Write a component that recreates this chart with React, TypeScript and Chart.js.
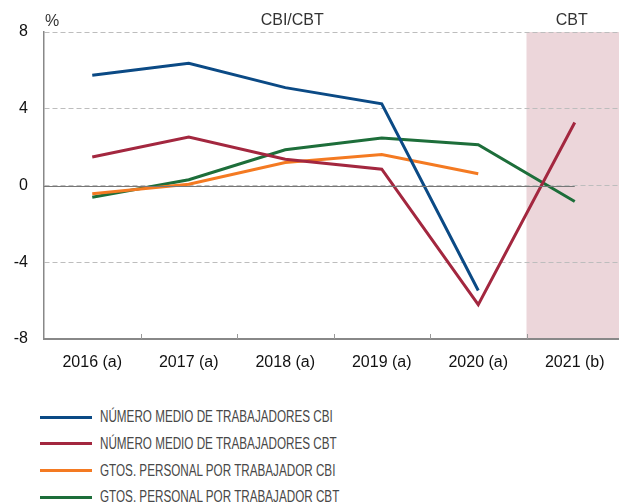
import React, { useEffect, useRef } from "react";
import { Chart, registerables } from "chart.js";

Chart.register(...registerables);

const categories = ["2016 (a)", "2017 (a)", "2018 (a)", "2019 (a)", "2020 (a)", "2021 (b)"];
const numMedioCBI = [5.75, 6.37, 5.1, 4.26, -5.47, null];
const numMedioCBT = [1.49, 2.52, 1.37, 0.85, -6.21, 3.28];
const gtosCBI = [-0.43, 0.07, 1.2, 1.61, 0.61, null];
const gtosCBT = [-0.61, 0.3, 1.86, 2.48, 2.12, -0.83];
const yTicks = [8, 4, 0, -4, -8];

const seriesNames = [
  "NÚMERO MEDIO DE TRABAJADORES CBI",
  "NÚMERO MEDIO DE TRABAJADORES CBT",
  "GTOS. PERSONAL POR TRABAJADOR CBI",
  "GTOS. PERSONAL POR TRABAJADOR CBT",
];
const seriesColors = ["#0b4a85", "#a3273f", "#f47a22", "#1d6e3a"];
const seriesData = [numMedioCBI, numMedioCBT, gtosCBI, gtosCBT];

const FONT = "'Liberation Sans', Arial, Helvetica, sans-serif";

const decorPlugin = {
  id: "decor",
  beforeDraw(chart: any) {
    const { ctx, chartArea } = chart;
    const x = chart.scales.x;
    const start = (x.getPixelForValue(4) + x.getPixelForValue(5)) / 2;
    ctx.save();
    ctx.fillStyle = "#ecd6da";
    ctx.fillRect(start, chartArea.top, chartArea.right - start, chartArea.bottom - chartArea.top);
    ctx.restore();
  },
  afterDraw(chart: any) {
    const { ctx, chartArea } = chart;
    const x = chart.scales.x;
    const y = chart.scales.y;
    ctx.save();
    const y0 = Math.round(y.getPixelForValue(0)) + 0.5;
    ctx.strokeStyle = "#777";
    ctx.lineWidth = 1;
    ctx.beginPath();
    ctx.moveTo(chartArea.left, y0);
    ctx.lineTo(x.getPixelForValue(5), y0);
    ctx.stroke();
    ctx.strokeStyle = "#999";
    for (let i = 0; i < categories.length - 1; i++) {
      const bx = Math.round((x.getPixelForValue(i) + x.getPixelForValue(i + 1)) / 2) + 0.5;
      ctx.beginPath();
      ctx.moveTo(bx, chartArea.bottom);
      ctx.lineTo(bx, chartArea.bottom - 5);
      ctx.stroke();
    }
    ctx.fillStyle = "#333";
    ctx.font = "16px " + FONT;
    ctx.textBaseline = "alphabetic";
    ctx.textAlign = "left";
    ctx.fillText("%", chartArea.left + 1, 26);
    const shadeStart = (x.getPixelForValue(4) + x.getPixelForValue(5)) / 2;
    ctx.textAlign = "center";
    ctx.fillText("CBI/CBT", (chartArea.left + shadeStart) / 2 + 7, 25);
    ctx.fillText("CBT", x.getPixelForValue(5) - 3, 25);
    ctx.restore();
  },
};

export default function App() {
  const ref = useRef<HTMLCanvasElement | null>(null);
  useEffect(() => {
    if (!ref.current) return;
    const chart = new Chart(ref.current, {
      type: "line",
      data: {
        labels: categories,
        datasets: seriesData.map((d, i) => ({
          label: seriesNames[i],
          data: d,
          borderColor: seriesColors[i],
          backgroundColor: seriesColors[i],
          borderWidth: 3,
          pointRadius: 0,
          tension: 0,
          spanGaps: false,
        })),
      },
      options: {
        responsive: false,
        animation: false,
        devicePixelRatio: 1,
        layout: { padding: { top: 32, right: 3, left: 0, bottom: 0 } },
        plugins: { legend: { display: false }, tooltip: { enabled: false } },
        scales: {
          x: {
            type: "category",
            offset: true,
            grid: { display: false, drawTicks: false },
            border: { display: true, color: "#888", width: 2 },
            ticks: { color: "#111", font: { size: 16, family: FONT }, padding: 14, maxRotation: 0 },
            afterFit: (s: any) => { s.height = 41; },
          },
          y: {
            min: -8,
            max: 8,
            afterBuildTicks: (s: any) => { s.ticks = yTicks.map((v) => ({ value: v })); },
            grid: {
              drawTicks: false,
              color: (c: any) => (c.tick && c.tick.value === -8 ? "rgba(0,0,0,0)" : "#bdbdbd"),
              lineWidth: 1,
            },
            border: { display: true, color: "#888", width: 1.5, dash: [5, 3] },
            ticks: { color: "#111", font: { size: 16, family: FONT }, padding: 16 },
            afterFit: (s: any) => { s.width = 44; },
          },
        },
      },
      plugins: [decorPlugin],
    } as any);
    return () => chart.destroy();
  }, []);

  return (
    <div style={{ position: "absolute", left: 0, top: 0, width: 619, height: 503, overflow: "hidden", background: "#fff" }}>
      <canvas ref={ref} width={626} height={380} style={{ display: "block" }} />
      <div style={{ position: "absolute", left: 0, top: 404 }}>
        {seriesNames.map((n, i) => (
          <div key={n} style={{ display: "flex", alignItems: "center", height: 26.67 }}>
            <div style={{ marginLeft: 40, width: 52, height: 3, background: seriesColors[i] }} />
            <span style={{ marginLeft: 8, display: "inline-block", transform: "scaleX(0.73)", transformOrigin: "left center", fontFamily: FONT, fontSize: 16, color: "#484848", whiteSpace: "nowrap" }}>{n}</span>
          </div>
        ))}
      </div>
    </div>
  );
}
